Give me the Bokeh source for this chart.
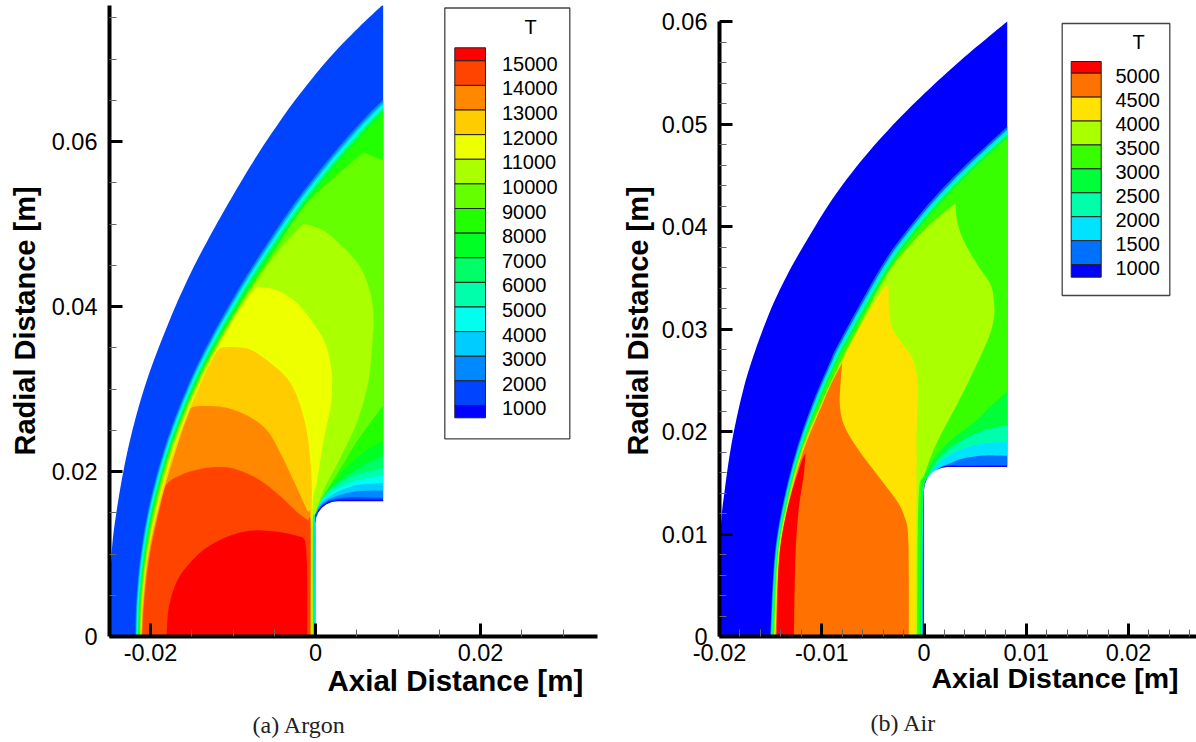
import math
from bokeh.embed import file_html
from bokeh.layouts import row
from bokeh.models import FixedTicker, Range1d, Title
from bokeh.plotting import figure
from bokeh.resources import INLINE
from bokeh.core.properties import value

# ---------------- values (mm for contours, K for levels) ----------------
argon_levels = [15000, 14000, 13000, 12000, 11000, 10000, 9000, 8000, 7000, 6000, 5000, 4000, 3000, 2000, 1000]
argon_colors = ["#ff0000", "#ff4400", "#ff8800", "#ffcc00", "#eeff00", "#aaff00", "#66ff00", "#22ff00",
                "#00ff22", "#00ff66", "#00ffaa", "#00ffee", "#00ccff", "#0088ff", "#0044ff", "#0000ff"]
air_levels = [5000, 4500, 4000, 3500, 3000, 2500, 2000, 1500, 1000]
air_colors = ["#ff0000", "#ff7100", "#ffe300", "#aaff00", "#38ff00", "#00ff38", "#00ffaa", "#00e3ff", "#0071ff", "#0000ff"]

argon_x_ticks = [-0.02, 0, 0.02]
argon_x_minor = [-0.025, -0.015, -0.01, -0.005, 0.005, 0.01, 0.015, 0.025, 0.03]
argon_y_ticks = [0, 0.02, 0.04, 0.06]
argon_y_minor = [0.005, 0.01, 0.015, 0.025, 0.03, 0.035, 0.045, 0.05, 0.055, 0.065, 0.07, 0.075]
air_x_ticks = [-0.02, -0.01, 0, 0.01, 0.02]
air_x_minor = [-0.018, -0.016, -0.014, -0.012, -0.008, -0.006, -0.004, -0.002, 0.002, 0.004, 0.006, 0.008,
               0.012, 0.014, 0.016, 0.018, 0.022, 0.024, 0.026]
air_y_ticks = [0, 0.01, 0.02, 0.03, 0.04, 0.05, 0.06]
air_y_minor = [0.002, 0.004, 0.006, 0.008, 0.012, 0.014, 0.016, 0.018, 0.022, 0.024, 0.026, 0.028, 0.032,
               0.034, 0.036, 0.038, 0.042, 0.044, 0.046, 0.048, 0.052, 0.054, 0.056, 0.058]

argon_shock = [(8.2, 76.6), (6.29, 74.85), (4.5, 73.09), (2.78, 71.33), (1.09, 69.45), (-.89, 67.03), (-2.96, 64.36),
               (-4.95, 61.53), (-6.93, 58.55), (-9.12, 54.98), (-11.27, 51.27), (-13.05, 48.06), (-14.8, 44.73),
               (-16.83, 40.36), (-18.67, 35.88), (-20.02, 32.29), (-21.21, 28.61), (-22.34, 24.4), (-23.27, 20.12),
               (-24.12, 15.13), (-24.72, 10.06), (-25.2, 0)]
argon_body = [(0, 0), (0, 13.73), (.09, 14.42), (.36, 15.07), (.78, 15.62), (1.33, 16.04), (1.98, 16.31), (2.67, 16.4), (8.3, 16.4), (8.3, 0)]
argon_cold = [(8.2, 16.56), (4.85, 16.6), (2.67, 16.56), (1.5, 16.3), (.7, 15.75), (.3, 15.2), (.3, 15), (8.2, 15)]
argon_front_y = [0, 4.36, 10.06, 16.48, 23.76, 30.67, 35.88, 40.73, 45.21, 51.88, 57.33, 61.94, 65.09]
argon_front_x = [-21.85, -21.72, -21.18, -20.03, -18.01, -15.36, -12.84, -10.15, -7.44, -3.01, 1.15, 5.12, 8.2]
argon_front_w = [.42, .48, .55, .61, .73, .85, .97, 1.09, 1.21, 1.33, 1.45, 1.58, 1.58]
argon_front_frac = {2000: 0, 3000: .2, 4000: .37, 5000: .53, 6000: .68, 7000: .84, 8000: 1.0}
argon_fans = {
    2000: [(8.2, 16.79), (4.85, 16.91), (2.79, 16.73), (1.52, 16.42), (.67, 15.82), (.12, 14.91), (-.05, 13.82), (-.02, 0)],
    3000: [(8.2, 17.7), (5.45, 17.64), (3.64, 17.33), (1.82, 16.73), (.85, 16.12), (.18, 15.15), (-.08, 13.82), (-.05, 0)],
    4000: [(8.2, 18.61), (5.45, 18.42), (3.64, 17.94), (2.06, 17.21), (.85, 16.36), (.12, 15.27), (-.12, 13.82), (-.1, 0)],
    5000: [(8.2, 19.52), (5.45, 19.03), (3.64, 18.42), (2.06, 17.58), (.73, 16.48), (.06, 15.27), (-.15, 13.82), (-.13, 0)],
    6000: [(8.2, 20.48), (5.45, 19.76), (3.64, 19.03), (2.06, 18.06), (.61, 16.61), (0, 15.27), (-.18, 13.82), (-.17, 0)],
    7000: [(8.2, 21.94), (5.09, 20.36), (3.03, 18.91), (1.21, 17.33), (.12, 15.52), (-.22, 13.82), (-.21, 0)],
    8000: [(8.2, 23.76), (5.82, 22.3), (3.88, 20.61), (1.82, 18.18), (.36, 16.0), (-.24, 13.82), (-.24, 0)],
}
argon_t9000 = [(-21.3, 0), (-21.15, 4.36), (-20.55, 10.06), (-19.33, 16.48), (-17.22, 23.76), (-14.42, 30.67), (-11.74, 35.88),
               (-8.85, 40.73), (-5.95, 45.21), (-1.58, 51.88), (2.79, 56.12), (5.82, 58.67), (8.2, 57.7), (8.2, 28.0),
               (5.09, 23.76), (2.67, 19.76), (.85, 16.85), (0, 14.91), (-.29, 13.45), (-.29, 0)]
argon_t10000 = [(-21.25, 0), (-21.09, 4.36), (-20.48, 10.06), (-19.21, 16.48), (-17.12, 23.76), (-14.3, 30.67), (-11.62, 35.88),
                (-8.75, 40.73), (-5.7, 45.21), (-3.4, 48.0), (-1.45, 50.06), (.97, 49.21), (3.39, 47.15), (5.45, 44.73),
                (6.67, 41.58), (7.03, 38.67), (6.91, 35.88), (6.42, 31.03), (5.09, 26.18), (3.03, 21.7), (.97, 17.7),
                (0, 14.91), (-.34, 13.45), (-.34, 0)]
argon_t11000 = [(-21.21, 0), (-21.03, 4.36), (-20.4, 10.06), (-19.09, 16.48), (-16.97, 23.76), (-14.18, 30.67), (-11.45, 35.88),
                (-8.5, 40.73), (-7.07, 42.42), (-4.61, 41.94), (-2.18, 40.36), (-.24, 37.94), (1.21, 35.52), (1.9, 32.61),
                (2.02, 30.67), (1.82, 27.76), (.97, 23.76), (.21, 18.91), (-.4, 14.91), (-.4, 0)]
argon_t12000 = [(-21.15, 0), (-20.97, 4.36), (-20.3, 10.06), (-18.91, 16.48), (-16.73, 23.76), (-13.94, 30.67), (-12.12, 34.3),
                (-11.31, 35.07), (-8.28, 34.91), (-5.85, 33.45), (-3.43, 31.27), (-2.06, 28.61), (-1.01, 24.61), (-.52, 19.76),
                (-.46, 14.91), (-.46, 0)]
argon_t13000 = [(-21.09, 0), (-20.85, 4.36), (-20.2, 10.06), (-18.73, 16.48), (-16.55, 23.76), (-15.15, 27.64), (-14.34, 27.92),
                (-11.15, 27.79), (-8.28, 26.79), (-5.85, 24.97), (-4.24, 22.18), (-2.67, 18.91), (-1.01, 15.27), (-.61, 14.06),
                (-.55, 0)]
argon_t14000 = [(-21.0, 0), (-20.76, 4.36), (-20.06, 10.06), (-18.67, 16.48), (-18.18, 18.3), (-17.21, 19.15), (-14.79, 20.12),
                (-12.36, 20.52), (-9.94, 20.36), (-7.07, 19.15), (-4.64, 17.33), (-2.22, 15.07), (-.85, 14.06), (-.61, 13.25),
                (-.67, 0)]
argon_t15000 = [(-18.06, 0), (-17.78, 3.55), (-16.76, 6.79), (-15.15, 9.0), (-13.13, 10.82), (-10.3, 12.24), (-7.52, 12.85),
                (-4.24, 12.64), (-1.61, 12.04), (-1.21, 11.27), (-1.01, 7.64), (-1.01, 0)]

air_shock = [(8.14, 60.0), (5.86, 58.13), (3.55, 56.18), (.92, 53.8), (-1.68, 51.3), (-4.55, 48.26), (-7.16, 45.13), (-9.47, 41.91),
             (-11.5, 38.58), (-12.97, 36.04), (-14.31, 33.4), (-15.29, 31.15), (-16.18, 28.81), (-16.89, 26.75), (-17.54, 24.6),
             (-18.31, 21.38), (-18.95, 18.05), (-19.48, 14.34), (-19.88, 10.53), (-20.4, 0)]
air_body = [(0, 0), (0, 14.26), (.08, 14.85), (.3, 15.4), (.66, 15.87), (1.13, 16.23), (1.68, 16.45), (2.27, 16.53), (8.3, 16.53), (8.3, 0)]
air_front_y = [0, 7.62, 12.51, 17.89, 22.62, 26.69, 28.81, 35.97, 39.27, 42.82, 46.11, 49.73]
air_front_x = [-15.05, -14.64, -13.89, -12.57, -10.96, -9.24, -8.24, -4.25, -1.95, 1.0, 4.19, 8.14]
air_front_w = [.26, .29, .34, .44, .59, .68, .78, .88, .98, 1.08, 1.17, 1.17]
air_front_frac = {1000: 0, 1500: .25, 2000: .5, 2500: .75, 3000: 1.0}
air_fans = {
    1000: [(8.14, 16.69), (4.22, 16.66), (2.27, 16.66), (1.12, 16.36), (.31, 15.4), (-.02, 14.1), (-.09, 0)],
    1500: [(8.14, 17.63), (5.82, 17.66), (3.86, 17.37), (2.59, 16.91), (1.29, 16.3), (.44, 15.45), (-.05, 13.98), (-.15, 0)],
    2000: [(8.14, 18.96), (6.18, 18.87), (4.22, 18.45), (2.59, 17.76), (1.29, 16.78), (.47, 15.61), (-.08, 13.66), (-.22, 0)],
    2500: [(8.14, 20.66), (5.53, 20.01), (3.57, 19.03), (1.94, 17.89), (.8, 16.42), (.05, 14.8), (-.15, 13.17), (-.29, 0)],
    3000: [(8.14, 23.92), (6.5, 22.45), (5.04, 20.99), (2.89, 19.35), (1.29, 17.76), (.15, 15.81), (-.27, 13.85), (-.39, 0)],
}
air_t3500 = [(-14.67, 0), (-14.33, 7.62), (-13.5, 12.51), (-12.08, 17.89), (-10.12, 22.62), (-8.22, 26.69), (-7.14, 28.81),
             (-3.6, 35.36), (-1.03, 38.58), (.96, 40.54), (3.08, 42.27), (3.25, 40.54), (3.89, 38.58), (5.2, 36.31), (6.5, 34.35),
             (6.83, 32.72), (6.83, 31.09), (6.18, 28.81), (3.89, 23.92), (1.32, 19.03), (.05, 15.81), (-.54, 13.46), (-.68, 0)]
air_t4000 = [(-14.6, 0), (-14.25, 7.62), (-13.42, 12.51), (-11.98, 17.89), (-10.02, 22.62), (-8.07, 26.69), (-7.04, 28.81),
             (-4.25, 33.53), (-3.44, 34.18), (-3.44, 32.06), (-3.11, 30.11), (-2.3, 28.81), (-1.15, 27.18), (-.67, 25.22),
             (-.61, 22.94), (-.73, 19.72), (-.73, 15.81), (-.83, 0)]
air_t4500 = [(-14.52, 0), (-14.18, 7.62), (-13.35, 12.51), (-11.88, 17.89), (-9.96, 22.62), (-8.95, 24.9), (-8.0, 26.69),
             (-8.17, 24.57), (-8.23, 22.62), (-7.84, 20.66), (-6.53, 18.38), (-4.58, 15.78), (-2.62, 13.17), (-1.98, 11.87),
             (-1.58, 10.23), (-1.49, 6.03), (-1.49, 0)]
air_t5000 = [(-14.43, 0), (-14.16, 7.62), (-13.35, 12.51), (-12.08, 16.78), (-11.59, 17.89), (-11.76, 15.78), (-12.24, 12.51),
             (-12.57, 7.96), (-12.73, 0)]

title_argon = "(a) Argon"
title_air = "(b) Air"
xlabel = "Axial Distance [m]"
ylabel = "Radial Distance [m]"
SANS = "Liberation Sans"


# ---------------- drawing helpers ----------------
def clipped_front(xs, ys, widths, frac, xmax):
    out = []
    px, py = None, None
    for x0, y0, w in zip(xs, ys, widths):
        x = x0 + frac * w
        if x >= xmax:
            if px is not None and x > px:
                out.append((xmax, py + (y0 - py) * (xmax - px) / (x - px)))
            else:
                out.append((xmax, y0))
            break
        out.append((x, y0))
        px, py = x, y0
    return out


def _catmull(run, n=6):
    # rounds the drawn outline through the points that were read; keeps those points
    if len(run) < 3:
        return list(run)
    pts = [run[0]] + list(run) + [run[-1]]
    out = []
    for i in range(1, len(pts) - 2):
        p0, p1, p2, p3 = pts[i - 1], pts[i], pts[i + 1], pts[i + 2]
        for k in range(n):
            t = k / n
            f = lambda a, b, c, d: 0.5 * (2 * b + (c - a) * t + (2 * a - 5 * b + 4 * c - d) * t * t + (3 * b - a - 3 * c + d) * t ** 3)
            out.append((f(p0[0], p1[0], p2[0], p3[0]), f(p0[1], p1[1], p2[1], p3[1])))
    out.append(run[-1])
    return out


def smooth(pts, corner_deg=30):
    runs, cur = [], [pts[0]]
    for i in range(1, len(pts) - 1):
        a, b, c = pts[i - 1], pts[i], pts[i + 1]
        u = (b[0] - a[0], b[1] - a[1])
        v = (c[0] - b[0], c[1] - b[1])
        ang = abs(math.degrees(math.atan2(u[0] * v[1] - u[1] * v[0], u[0] * v[0] + u[1] * v[1])))
        cur.append(b)
        if ang > corner_deg or b[0] >= 8.14:
            runs.append(cur)
            cur = [b]
    cur.append(pts[-1])
    runs.append(cur)
    out = []
    for r in runs:
        out.extend(_catmull(r))
    return out


def patch(p, pts, color, round_it=True):
    use = smooth(pts) if round_it else pts
    p.patch([a * 1e-3 for a, _ in use], [b * 1e-3 for _, b in use], fill_color=color, line_color=None)


def make_figure(width, x_range, y_range, left, right, xticks, xminor, yticks, yminor, tick_size, standoff, hyphens, ybounds=None):
    p = figure(width=width, height=742, frame_height=631, x_range=Range1d(*x_range), y_range=Range1d(*y_range),
               toolbar_location=None, output_backend="svg",
               min_border_left=left, min_border_right=right, min_border_top=5, min_border_bottom=100)
    p.grid.visible = False
    p.outline_line_color = None
    p.background_fill_color = "white"
    p.xaxis.ticker = FixedTicker(ticks=xticks, minor_ticks=xminor)
    p.yaxis.ticker = FixedTicker(ticks=yticks, minor_ticks=yminor)
    p.xaxis.major_label_overrides = hyphens
    if ybounds:
        p.yaxis.bounds = ybounds
    for ax in (p.xaxis[0], p.yaxis[0]):
        ax.axis_line_width = 4
        ax.axis_line_color = "black"
        ax.major_tick_in = 13
        ax.major_tick_out = 0
        ax.major_tick_line_width = 3
        ax.major_tick_line_color = "black"
        ax.minor_tick_in = 7
        ax.minor_tick_out = 0
        ax.minor_tick_line_width = 1
        ax.minor_tick_line_color = "#666666"
        ax.major_label_text_font = SANS
        ax.major_label_text_font_size = tick_size
        ax.major_label_text_color = "black"
    p.xaxis.major_label_standoff = 7
    p.yaxis.major_label_standoff = 12
    p.yaxis.axis_label = ylabel
    p.yaxis.axis_label_text_font = SANS
    p.yaxis.axis_label_text_font_size = "29px"
    p.yaxis.axis_label_text_font_style = "bold"
    p.yaxis.axis_label_text_color = "black"
    p.yaxis.axis_label_standoff = standoff
    return p


def below_titles(p, xtext, xsize, xoff, xstand, cap, capoff, capstand):
    t1 = Title(text=xtext, align="left", offset=xoff, standoff=xstand, text_font=SANS, text_font_size=xsize,
               text_font_style="bold", text_color="black")
    t2 = Title(text=cap, align="left", offset=capoff, standoff=capstand, text_font="Liberation Serif", text_font_size="24px",
               text_font_style="normal", text_color="#222222")
    p.add_layout(t1, "below")
    p.add_layout(t2, "below")


def legend(p, fx, fy, box, bar, t_xy, label_x, level_y0, level_step, step_T, levels, colors, font, label_dy):
    l, r, t, b = box
    p.quad(left=[fx(l)], right=[fx(r)], top=[fy(t)], bottom=[fy(b)], fill_color="white", line_color="#444444", line_width=1.3)
    bl, br, bt, bb = bar
    edges = [bt] + [level_y0 + level_step * (levels[0] - T) / step_T for T in levels] + [bb]
    p.quad(left=[fx(bl)] * len(colors), right=[fx(br)] * len(colors),
           top=[fy(e) for e in edges[:-1]], bottom=[fy(e) for e in edges[1:]],
           fill_color=colors, line_color="#222222", line_width=1)
    p.text(x=[fx(label_x)] * len(levels), y=[fy(e) for e in edges[1:-1]], text=[str(T) for T in levels],
           text_font=value(SANS), text_font_size=value(font), text_baseline="middle", text_align="left",
           text_color="black", y_offset=label_dy)
    p.text(x=[fx(t_xy[0])], y=[fy(t_xy[1])], text=["T"], text_font=value(SANS), text_font_size=value(font),
           text_baseline="middle", text_align="center", text_color="black")


# ---- Argon: page pixels of the frame are 109..597 x 5..636, 8250 px per metre
ax0, ay0, aS = 315.0, 636.0, 8250.0
afx = lambda px: (px - ax0) / aS
afy = lambda py: (ay0 - py) / aS
pa = make_figure(609, (afx(109), afx(597)), (0, afy(5)), 109, 12,
                 argon_x_ticks, argon_x_minor, argon_y_ticks, argon_y_minor, "23.5px", 8, {-0.02: "-0.02"})
patch(pa, argon_shock + [(0, 0), (8.2, 0)], argon_colors[14])
a_color = dict(zip(argon_levels, argon_colors))
for T in [2000, 3000, 4000, 5000, 6000, 7000, 8000]:
    patch(pa, clipped_front(argon_front_x, argon_front_y, argon_front_w, argon_front_frac[T], 8.2) + argon_fans[T], a_color[T])
for T, pts in [(9000, argon_t9000), (10000, argon_t10000), (11000, argon_t11000), (12000, argon_t12000),
               (13000, argon_t13000), (14000, argon_t14000), (15000, argon_t15000)]:
    patch(pa, pts, a_color[T])
patch(pa, argon_cold, argon_colors[15], round_it=False)
patch(pa, argon_body, "white", round_it=False)
legend(pa, afx, afy, (444.3, 569.3, 7.5, 438.3), (454.3, 485, 47.3, 417.3), (530, 26), 501.5,
       60.3, 24.62, 1000, argon_levels, argon_colors, "20px", 3)
below_titles(pa, xlabel, "29.5px", 218, -3, title_argon, 143, 28)

# ---- Air: page pixels of the frame are 719..1196 x 5..636; 0.06 m lies at 21, 10250 px per metre upward
bx0, by0, bSx, bSy = 923.5, 636.0, 10225.0, 10250.0
bfx = lambda px: (px - bx0) / bSx
bfy = lambda py: (by0 - py) / bSy
pb = make_figure(587, (bfx(719), bfx(1196)), (0, bfy(5)), 110, 0,
                 air_x_ticks, air_x_minor, air_y_ticks, air_y_minor, "23.5px", 5, {-0.02: "-0.02", -0.01: "-0.01"}, (0, 0.06))
patch(pb, air_shock + [(0, 0), (8.14, 0)], air_colors[9])
b_color = dict(zip(air_levels, air_colors))
for T in [1000, 1500, 2000, 2500, 3000]:
    patch(pb, clipped_front(air_front_x, air_front_y, air_front_w, air_front_frac[T], 8.14) + air_fans[T], b_color[T])
for T, pts in [(3500, air_t3500), (4000, air_t4000), (4500, air_t4500), (5000, air_t5000)]:
    patch(pb, pts, b_color[T])
patch(pb, air_body, "white", round_it=False)
legend(pb, bfx, bfy, (1061.7, 1169.3, 23, 295), (1070.7, 1100.7, 61, 276.7), (1138, 41), 1115,
       72.7, 23.92, 500, air_levels, air_colors, "20px", 3)
below_titles(pb, xlabel, "28.5px", 212, -7, title_air, 151, 35)

page = row(pa, pb, margin=(0, 0, 0, 0))
open("out.html", "w").write(file_html(page, INLINE))
